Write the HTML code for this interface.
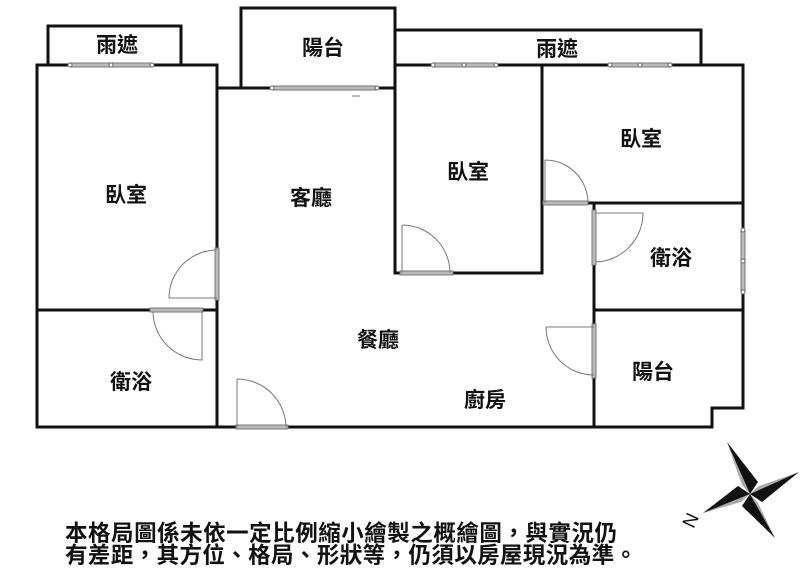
<!DOCTYPE html>
<html><head><meta charset="utf-8"><style>
html,body{margin:0;padding:0;background:#fff;width:800px;height:582px;overflow:hidden}
svg{display:block}
.t{font-family:"Liberation Sans","Noto Sans CJK TC",sans-serif;font-weight:bold;font-size:21px;fill:#111;text-anchor:middle}
.b{font-family:"Liberation Sans","Noto Sans CJK TC",sans-serif;font-weight:bold;font-size:22.5px;fill:#111}
</style></head><body>
<svg width="800" height="582" viewBox="0 0 800 582">
<g fill="none" stroke="#111" stroke-width="3" stroke-linecap="square">
<path d="M48,65 V26 H181 V65"/>
<path d="M241,88 V8 H395 V88"/>
<path d="M395,65 V30 H701 V65"/>
<path d="M37,65 H217 M37,65 V427 H712 V408 H743 V65 H395 M217,65 V88 H395"/>
<path d="M217,88 V427"/>
<path d="M37,310 H217"/>
<path d="M395,65 V273 H542 V65"/>
<path d="M542,203 H743"/>
<path d="M594,203 V427"/>
<path d="M594,310 H743"/>
</g>
<g fill="#bbb" stroke="#777" stroke-width="1">
<rect x="70" y="63" width="82" height="4"/>
<rect x="272" y="86" width="105" height="4"/>
<rect x="433" y="63" width="63" height="4"/>
<rect x="610" y="63" width="60" height="4"/>
<rect x="741" y="230" width="4" height="62"/>
<rect x="215" y="248" width="4" height="52"/>
<rect x="150" y="308" width="53" height="4"/>
<rect x="236" y="425" width="52" height="4"/>
<rect x="400" y="271" width="53" height="4"/>
<rect x="543" y="201" width="45" height="4"/>
<rect x="592" y="210" width="4" height="55"/>
<rect x="592" y="324" width="4" height="54"/>
</g>
<g fill="#fff" stroke="#666" stroke-width="1">
<circle cx="70" cy="65" r="2"/><circle cx="111" cy="65" r="2"/><circle cx="152" cy="65" r="2"/>
<circle cx="272" cy="88" r="2"/><circle cx="377" cy="88" r="2"/>
<circle cx="433" cy="65" r="2"/><circle cx="464" cy="65" r="2"/><circle cx="496" cy="65" r="2"/>
<circle cx="610" cy="65" r="2"/><circle cx="640" cy="65" r="2"/><circle cx="670" cy="65" r="2"/>
<circle cx="743" cy="230" r="2"/><circle cx="743" cy="261" r="2"/><circle cx="743" cy="292" r="2"/>
</g>
<g fill="none" stroke="#777" stroke-width="1">
<path d="M217,250 A48,48 0 0 0 169,298 H217"/>
<path d="M153,312 A49,49 0 0 0 202,360 V310"/>
<path d="M237,379 A49,49 0 0 1 286,427 M237,379 V427"/>
<path d="M402,225 A48,48 0 0 1 450,273 M402,225 V273"/>
<path d="M545,160 A43,43 0 0 1 588,203 M545,160 V203"/>
<path d="M596,213 H643 A49,49 0 0 1 596,262"/>
<path d="M594,327 H546 A48,48 0 0 0 594,375"/>
<path d="M352,96 H360"/>
</g>
<text class="t" x="117" y="52">雨遮</text>
<text class="t" x="323" y="55">陽台</text>
<text class="t" x="557" y="56">雨遮</text>
<text class="t" x="126" y="202">臥室</text>
<text class="t" x="311" y="205">客廳</text>
<text class="t" x="468" y="179">臥室</text>
<text class="t" x="641" y="146">臥室</text>
<text class="t" x="671" y="265">衛浴</text>
<text class="t" x="378" y="347">餐廳</text>
<text class="t" x="131" y="389">衛浴</text>
<text class="t" x="653" y="379">陽台</text>
<text class="t" x="485" y="407">廚房</text>
<g transform="translate(750,494)">
<polygon points="-23,-52 0,0 -8,-9" fill="#aaa"/>
<polygon points="-23,-52 0,0 8,-12" fill="#111"/>
<polygon points="49,-22 0,0 9,-8" fill="#aaa"/>
<polygon points="49,-22 0,0 12,8" fill="#111"/>
<polygon points="25,44 0,0 8,9" fill="#aaa"/>
<polygon points="25,44 0,0 -8,12" fill="#111"/>
<polygon points="-47,19 0,0 -9,8" fill="#aaa"/>
<polygon points="-47,19 0,0 -12,-8" fill="#111"/>
</g>
<text x="690" y="527" transform="rotate(-65 690 520)" style="font-family:'Liberation Sans',sans-serif;font-size:19px;fill:#111;text-anchor:middle">N</text>
<text class="b" x="65" y="541" textLength="552" lengthAdjust="spacing">本格局圖係未依一定比例縮小繪製之概繪圖，與實況仍</text>
<text class="b" x="65" y="563" textLength="572" lengthAdjust="spacing">有差距，其方位、格局、形狀等，仍須以房屋現況為準。</text>
</svg>
</body></html>
